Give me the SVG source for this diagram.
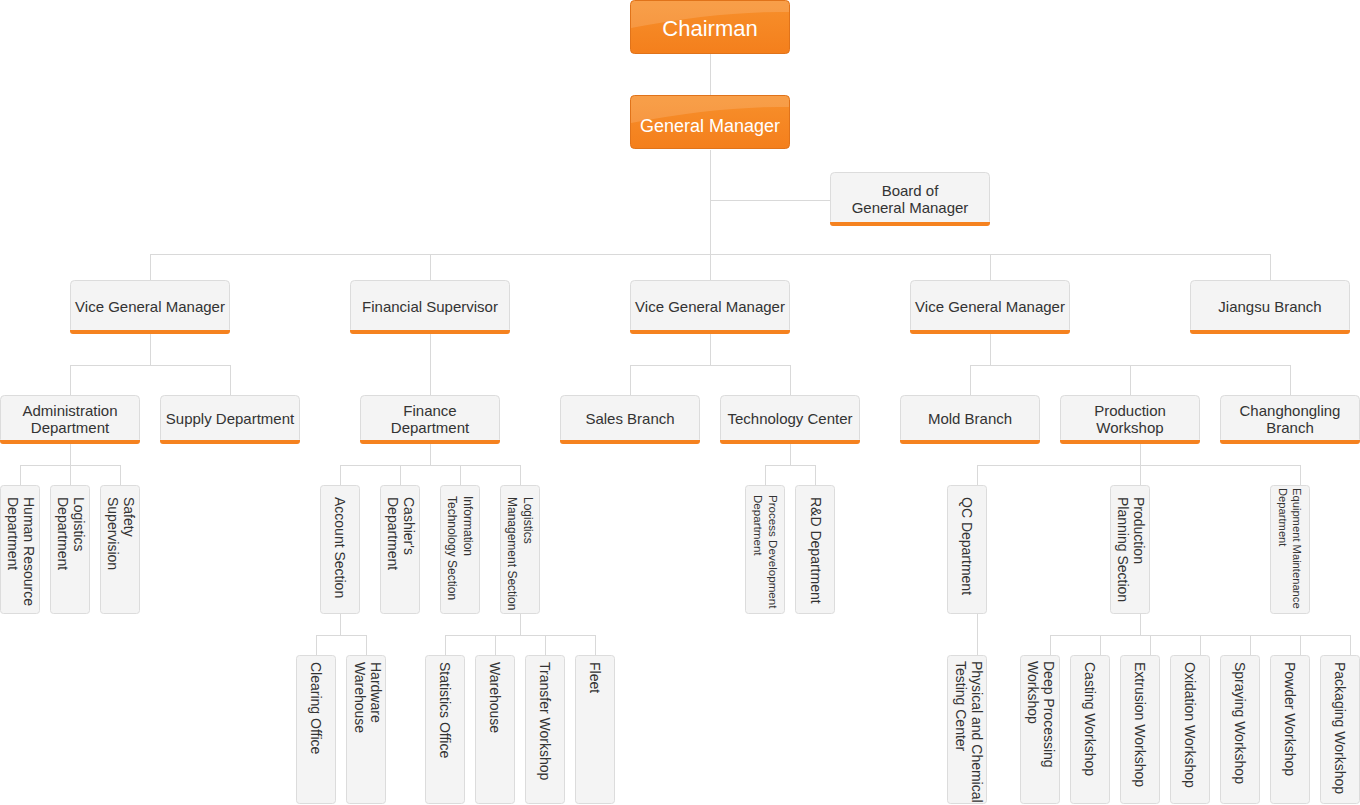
<svg xmlns="http://www.w3.org/2000/svg" xmlns:xlink="http://www.w3.org/1999/xlink" width="1360" height="805" viewBox="0 0 1360 805">
<style>
.ln{stroke:#d9d9d9;stroke-width:1;fill:none}
.bx{fill:#f4f4f4;stroke:#dcdcdc;stroke-width:1}
.or{fill:#f5821f}
.t{font-family:"Liberation Sans",Arial,sans-serif;fill:#333;font-size:15px;text-anchor:middle}
.w{font-family:"Liberation Sans",Arial,sans-serif;fill:#fff;text-anchor:middle}
.v{font-family:"Liberation Sans",Arial,sans-serif;fill:#333;font-size:14px}
.s{font-size:12px}
.s2{font-size:11.6px}
.s3{font-size:11.2px}
</style>
<defs>
<linearGradient id="og" x1="0" y1="0" x2="0" y2="1">
<stop offset="0" stop-color="#f7902c"/>
<stop offset="1" stop-color="#f47f1c"/>
</linearGradient>
<g id="o160">
<rect x="0.5" y="0.5" width="159" height="53" rx="4" fill="url(#og)" stroke="#e0731a"/>
<path d="M1,5 Q1,1 5,1 H155 Q159,1 159,5 V12 Q90,11 1,28 Z" fill="#fff" opacity="0.14"/>
</g>
<g id="n160">
<rect class="bx" x="0.5" y="0.5" width="159" height="53" rx="4"/>
<path class="or" d="M0,50 H160 V51 Q160,54 157,54 H3 Q0,54 0,51 Z"/>
</g>
<g id="n140">
<rect class="bx" x="0.5" y="0.5" width="139" height="48" rx="4"/>
<path class="or" d="M0,45 H140 V46 Q140,49 137,49 H3 Q0,49 0,46 Z"/>
</g>
<rect id="v4" class="bx" x="0.5" y="0.5" width="39" height="128" rx="3"/>
<rect id="v5" class="bx" x="0.5" y="0.5" width="39" height="148" rx="3"/>
</defs>
<rect width="1360" height="805" fill="#fff"/>

<g id="connectors">
<path class="ln" d="M710.5,54 V95 M710.5,150 V254 M710.5,200.5 H830"/>
<path class="ln" d="M150.5,254.5 H1270.5 M150.5,254 V280 M430.5,254 V280 M710.5,254 V280 M990.5,254 V280 M1270.5,254 V280"/>
<path class="ln" d="M150.5,334 V365.5 M70.5,365.5 H230.5 M70.5,365 V395 M230.5,365 V395"/>
<path class="ln" d="M430.5,334 V395"/>
<path class="ln" d="M710.5,334 V365.5 M630.5,365.5 H790.5 M630.5,365 V395 M790.5,365 V395"/>
<path class="ln" d="M990.5,334 V365.5 M970.5,365.5 H1290.5 M970.5,365 V395 M1130.5,365 V395 M1290.5,365 V395"/>
<path class="ln" d="M70.5,444 V465.5 M20.5,465.5 H120.5 M20.5,465 V485 M70.5,465 V485 M120.5,465 V485"/>
<path class="ln" d="M430.5,444 V465.5 M340.5,465.5 H520.5 M340.5,465 V485 M400.5,465 V485 M460.5,465 V485 M520.5,465 V485"/>
<path class="ln" d="M790.5,444 V465.5 M765.5,465.5 H815.5 M765.5,465 V485 M815.5,465 V485"/>
<path class="ln" d="M1140.5,444 V465.5 M977.5,465.5 H1300.5 M977.5,465 V485 M1140.5,465 V485 M1300.5,465 V485"/>
<path class="ln" d="M340.5,614 V635.5 M316.5,635.5 H366.5 M316.5,635 V655 M366.5,635 V655"/>
<path class="ln" d="M520.5,614 V635.5 M445.5,635.5 H595.5 M445.5,635 V655 M495.5,635 V655 M545.5,635 V655 M595.5,635 V655"/>
<path class="ln" d="M977.5,614 V655"/>
<path class="ln" d="M1140.5,614 V635.5 M1050.5,635.5 H1350.5 M1050.5,635 V655 M1100.5,635 V655 M1150.5,635 V655 M1200.5,635 V655 M1250.5,635 V655 M1300.5,635 V655 M1350.5,635 V655"/>
</g>

<g id="chairman"><use xlink:href="#o160" x="630" y="0"/><text class="w" x="710" y="36" font-size="22">Chairman</text></g>
<g id="general-manager"><use xlink:href="#o160" x="630" y="95"/><text class="w" x="710" y="131.5" font-size="18">General Manager</text></g>
<g id="board"><use xlink:href="#n160" x="830" y="172"/><text class="t" x="910" y="195.5">Board of</text><text class="t" x="910" y="213">General Manager</text></g>

<g id="vgm1"><use xlink:href="#n160" x="70" y="280"/><text class="t" x="150" y="312">Vice General Manager</text></g>
<g id="fin-supervisor"><use xlink:href="#n160" x="350" y="280"/><text class="t" x="430" y="312">Financial Supervisor</text></g>
<g id="vgm2"><use xlink:href="#n160" x="630" y="280"/><text class="t" x="710" y="312">Vice General Manager</text></g>
<g id="vgm3"><use xlink:href="#n160" x="910" y="280"/><text class="t" x="990" y="312">Vice General Manager</text></g>
<g id="jiangsu"><use xlink:href="#n160" x="1190" y="280"/><text class="t" x="1270" y="312">Jiangsu Branch</text></g>

<g id="admin"><use xlink:href="#n140" x="0" y="395"/><text class="t" x="70" y="415.5">Administration</text><text class="t" x="70" y="433">Department</text></g>
<g id="supply"><use xlink:href="#n140" x="160" y="395"/><text class="t" x="230" y="424">Supply Department</text></g>
<g id="finance"><use xlink:href="#n140" x="360" y="395"/><text class="t" x="430" y="415.5">Finance</text><text class="t" x="430" y="433">Department</text></g>
<g id="sales"><use xlink:href="#n140" x="560" y="395"/><text class="t" x="630" y="424">Sales Branch</text></g>
<g id="tech"><use xlink:href="#n140" x="720" y="395"/><text class="t" x="790" y="424">Technology Center</text></g>
<g id="mold"><use xlink:href="#n140" x="900" y="395"/><text class="t" x="970" y="424">Mold Branch</text></g>
<g id="production"><use xlink:href="#n140" x="1060" y="395"/><text class="t" x="1130" y="415.5">Production</text><text class="t" x="1130" y="433">Workshop</text></g>
<g id="changhongling"><use xlink:href="#n140" x="1220" y="395"/><text class="t" x="1290" y="415.5">Changhongling</text><text class="t" x="1290" y="433">Branch</text></g>

<g id="hr"><use xlink:href="#v4" x="0" y="485"/><text class="v" transform="translate(24,497) rotate(90)"><tspan x="0" y="0">Human Resource</tspan><tspan x="0" y="16.5">Department</tspan></text></g>
<g id="logistics-dept"><use xlink:href="#v4" x="50" y="485"/><text class="v" transform="translate(74,497) rotate(90)"><tspan x="0" y="0">Logistics</tspan><tspan x="0" y="16.5">Department</tspan></text></g>
<g id="safety"><use xlink:href="#v4" x="100" y="485"/><text class="v" transform="translate(124,497) rotate(90)"><tspan x="0" y="0">Safety</tspan><tspan x="0" y="16.5">Supervision</tspan></text></g>
<g id="account"><use xlink:href="#v4" x="320" y="485"/><text class="v" transform="translate(334.5,497) rotate(90)">Account Section</text></g>
<g id="cashier"><use xlink:href="#v4" x="380" y="485"/><text class="v" transform="translate(404,497) rotate(90)"><tspan x="0" y="0">Cashier's</tspan><tspan x="0" y="16.5">Department</tspan></text></g>
<g id="it"><use xlink:href="#v4" x="440" y="485"/><text class="v s" transform="translate(463.5,496) rotate(90)"><tspan x="0" y="0">Information</tspan><tspan x="0" y="15.5">Technology Section</tspan></text></g>
<g id="logistics-mgmt"><use xlink:href="#v4" x="500" y="485"/><text class="v s" transform="translate(523.5,497) rotate(90)"><tspan x="0" y="0">Logistics</tspan><tspan x="0" y="15.5">Management Section</tspan></text></g>
<g id="process-dev"><use xlink:href="#v4" x="745" y="485"/><text class="v s2" transform="translate(769,495) rotate(90)"><tspan x="0" y="0">Process Development</tspan><tspan x="0" y="15.5">Department</tspan></text></g>
<g id="rd"><use xlink:href="#v4" x="795" y="485"/><text class="v" transform="translate(810.5,497) rotate(90)">R&amp;D Department</text></g>
<g id="qc"><use xlink:href="#v4" x="947" y="485"/><text class="v" transform="translate(962,497) rotate(90)">QC Department</text></g>
<g id="prod-planning"><use xlink:href="#v4" x="1110" y="485"/><text class="v" transform="translate(1133.5,497) rotate(90)"><tspan x="0" y="0">Production</tspan><tspan x="0" y="16">Planning Section</tspan></text></g>
<g id="equipment"><use xlink:href="#v4" x="1270" y="485"/><text class="v s3" transform="translate(1293,488) rotate(90)"><tspan x="0" y="0">Equipment Maintenance</tspan><tspan x="0" y="14.5">Department</tspan></text></g>

<g id="clearing"><use xlink:href="#v5" x="296" y="655"/><text class="v" transform="translate(310.5,662) rotate(90)">Clearing Office</text></g>
<g id="hardware"><use xlink:href="#v5" x="346" y="655"/><text class="v" transform="translate(371,662) rotate(90)"><tspan x="0" y="0">Hardware</tspan><tspan x="0" y="16.5">Warehouse</tspan></text></g>
<g id="statistics"><use xlink:href="#v5" x="425" y="655"/><text class="v" transform="translate(439.5,662) rotate(90)">Statistics Office</text></g>
<g id="warehouse"><use xlink:href="#v5" x="475" y="655"/><text class="v" transform="translate(489.5,662) rotate(90)">Warehouse</text></g>
<g id="transfer"><use xlink:href="#v5" x="525" y="655"/><text class="v" transform="translate(539.5,662) rotate(90)">Transfer Workshop</text></g>
<g id="fleet"><use xlink:href="#v5" x="575" y="655"/><text class="v" transform="translate(589.5,662) rotate(90)">Fleet</text></g>
<g id="physical"><use xlink:href="#v5" x="947" y="655"/><text class="v" transform="translate(972,661) rotate(90)"><tspan x="0" y="0">Physical and Chemical</tspan><tspan x="0" y="16.5">Testing Center</tspan></text></g>
<g id="deep"><use xlink:href="#v5" x="1020" y="655"/><text class="v" transform="translate(1044,661) rotate(90)"><tspan x="0" y="0">Deep Processing</tspan><tspan x="0" y="16.5">Workshop</tspan></text></g>
<g id="casting"><use xlink:href="#v5" x="1070" y="655"/><text class="v" transform="translate(1084.5,662) rotate(90)">Casting Workshop</text></g>
<g id="extrusion"><use xlink:href="#v5" x="1120" y="655"/><text class="v" transform="translate(1134.5,662) rotate(90)">Extrusion Workshop</text></g>
<g id="oxidation"><use xlink:href="#v5" x="1170" y="655"/><text class="v" transform="translate(1184.5,662) rotate(90)">Oxidation Workshop</text></g>
<g id="spraying"><use xlink:href="#v5" x="1220" y="655"/><text class="v" transform="translate(1234.5,662) rotate(90)">Spraying Workshop</text></g>
<g id="powder"><use xlink:href="#v5" x="1270" y="655"/><text class="v" transform="translate(1284.5,662) rotate(90)">Powder Workshop</text></g>
<g id="packaging"><use xlink:href="#v5" x="1320" y="655"/><text class="v" transform="translate(1334.5,662) rotate(90)">Packaging Workshop</text></g>
</svg>
